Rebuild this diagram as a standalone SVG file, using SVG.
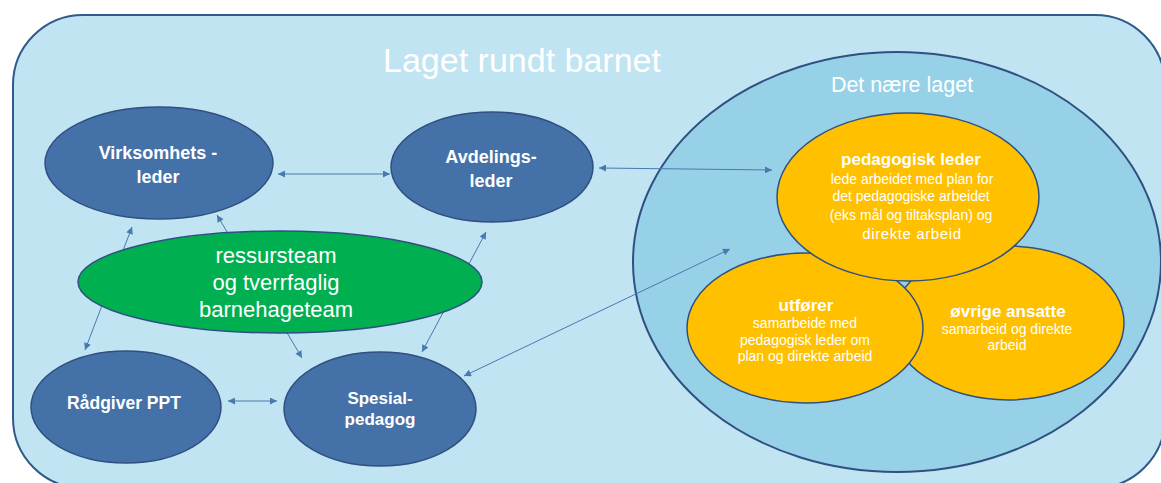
<svg xmlns="http://www.w3.org/2000/svg" width="1161" height="483" viewBox="0 0 1161 483">
<style>
.frame{fill:#c0e4f2;stroke:#2f5a8a;stroke-width:2}
.inner{fill:#97d1e7;stroke:#2f5080;stroke-width:2}
.blue{fill:#4472a8;stroke:#2f5080;stroke-width:1.5}
.green{fill:#00b050;stroke:#2f5080;stroke-width:1.5}
.orange{fill:#ffc000;stroke:#2f5080;stroke-width:1.5}
text{font-family:"Liberation Sans",Arial,sans-serif;fill:#ffffff;text-anchor:middle}
.b{font-weight:bold;font-size:18px}
.ob{font-weight:bold;font-size:17px}
.d{font-size:14px}
.con{stroke:#4a78b0;stroke-width:1;fill:none;marker-start:url(#ah);marker-end:url(#ah)}
</style>
<defs>
<marker id="ah" viewBox="0 0 10 10" refX="10" refY="5" markerWidth="9" markerHeight="7" markerUnits="userSpaceOnUse" orient="auto-start-reverse">
<path d="M0,0 L10,5 L0,10 z" fill="#4a78b0"/>
</marker>
</defs>
<rect class="frame" x="13" y="15" width="1152" height="473" rx="70" ry="70"/>
<text x="522" y="72" style="font-size:34px">Laget rundt barnet</text>
<g id="det-naere-laget">
<ellipse class="inner" cx="897" cy="262" rx="264" ry="210"/>
<text x="902" y="92" style="font-size:21.5px">Det nære laget</text>
</g>
<g id="connectors">
<line class="con" x1="132" y1="227" x2="85" y2="350"/>
<line class="con" x1="217" y1="215" x2="302" y2="358"/>
<line class="con" x1="486" y1="232" x2="422" y2="352"/>
<line class="con" x1="278" y1="174" x2="390" y2="174"/>
<line class="con" x1="599" y1="168" x2="772" y2="170"/>
<line class="con" x1="464" y1="376" x2="730" y2="249"/>
<line class="con" x1="228" y1="401" x2="277" y2="401"/>
</g>
<g id="virksomhetsleder">
<ellipse class="blue" cx="159" cy="163" rx="114" ry="56"/>
<text class="b" x="158" y="159">Virksomhets -</text>
<text class="b" x="158" y="183">leder</text>
</g>
<g id="avdelingsleder">
<ellipse class="blue" cx="492" cy="167" rx="101" ry="55"/>
<text class="b" x="491" y="163">Avdelings-</text>
<text class="b" x="491" y="187">leder</text>
</g>
<g id="ressursteam">
<ellipse class="green" cx="280" cy="282" rx="202" ry="51"/>
<text x="276" y="263" style="font-size:22px">ressursteam</text>
<text x="276" y="290" style="font-size:22px">og tverrfaglig</text>
<text x="276" y="317" style="font-size:22px">barnehageteam</text>
</g>
<g id="radgiver-ppt">
<ellipse class="blue" cx="126" cy="407" rx="95" ry="56"/>
<text class="b" x="124" y="409" style="font-size:17.5px">Rådgiver PPT</text>
</g>
<g id="spesialpedagog">
<ellipse class="blue" cx="380" cy="409" rx="96" ry="57"/>
<text class="b" x="380" y="404" style="font-size:17px">Spesial-</text>
<text class="b" x="380" y="425" style="font-size:17px">pedagog</text>
</g>
<g id="ovrige-ansatte">
<ellipse class="orange" cx="1008" cy="323" rx="116" ry="77"/>
<text class="ob" x="1008" y="317">øvrige ansatte</text>
<text class="d" x="1007" y="334">samarbeid og direkte</text>
<text class="d" x="1007" y="350">arbeid</text>
</g>
<g id="utforer">
<ellipse class="orange" cx="805" cy="328" rx="118" ry="75"/>
<text class="ob" x="806" y="311">utfører</text>
<text class="d" x="805" y="328">samarbeide med</text>
<text class="d" x="805" y="345">pedagogisk leder om</text>
<text class="d" x="805" y="361">plan og direkte arbeid</text>
</g>
<g id="pedagogisk-leder">
<ellipse class="orange" cx="908" cy="197" rx="131" ry="84"/>
<text class="ob" x="911" y="165">pedagogisk leder</text>
<text class="d" x="912" y="184">lede arbeidet med plan for</text>
<text class="d" x="911" y="201">det pedagogiske arbeidet</text>
<text class="d" x="911" y="220">(eks mål og tiltaksplan) og</text>
<text x="912" y="239" style="font-size:15px;letter-spacing:0.6px">direkte arbeid</text>
</g>
</svg>
